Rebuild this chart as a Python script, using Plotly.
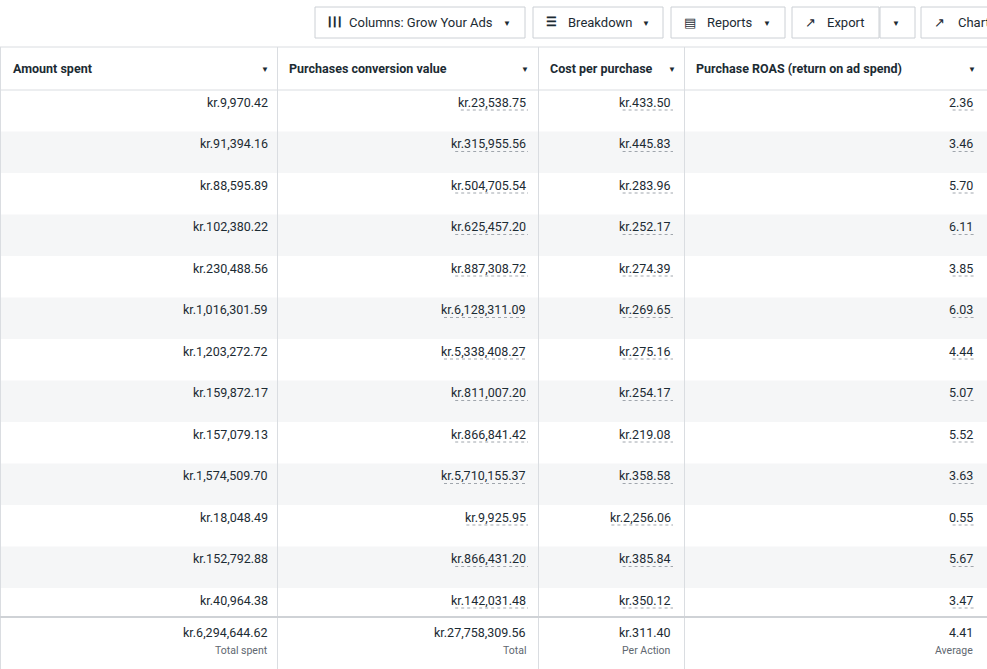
import plotly.graph_objects as go

headers = ["Amount spent", "Purchases conversion value", "Cost per purchase", "Purchase ROAS (return on ad spend)"]
amount_spent = [9970.42, 91394.16, 88595.89, 102380.22, 230488.56, 1016301.59, 1203272.72,
                159872.17, 157079.13, 1574509.70, 18048.49, 152792.88, 40964.38]
conv_value = [23538.75, 315955.56, 504705.54, 625457.20, 887308.72, 6128311.09, 5338408.27,
              811007.20, 866841.42, 5710155.37, 9925.95, 866431.20, 142031.48]
cost_per = [433.50, 445.83, 283.96, 252.17, 274.39, 269.65, 275.16, 254.17, 219.08, 358.58,
            2256.06, 385.84, 350.12]
roas = [2.36, 3.46, 5.70, 6.11, 3.85, 6.03, 4.44, 5.07, 5.52, 3.63, 0.55, 5.67, 3.47]
totals = ["kr.6,294,644.62", "kr.27,758,309.56", "kr.311.40", "4.41"]
total_labels = ["Total spent", "Total", "Per Action", "Average"]
toolbar = ["Columns: Grow Your Ads", "Breakdown", "Reports", "Export", "", "Chart"]

FONT = "Roboto"
col_edges = [0, 277, 538, 684, 987]
right_x = [270, 528, 673, 975]
head_left = [11, 287, 548, 694]
arrow_x = [271, 531, 678, 978]
row_top, row_h = 90, 41.5

fig = go.Figure()
shapes, ann = [], []

def txt(x, y, s, size=13, color="#1c2b33", anchor="left", bold=False):
    ann.append(dict(x=x, y=y, text=f"<b>{s}</b>" if bold else s, showarrow=False, xanchor=anchor,
                    yanchor="middle", font=dict(family=FONT, size=size, color=color)))

for i in range(len(roas)):
    y0 = row_top + i * row_h
    y1 = min(y0 + row_h, 617)
    if i % 2 == 1:
        shapes.append(dict(type="rect", x0=0, x1=987, y0=y0, y1=y1, fillcolor="#f5f6f7", line_width=0, layer="below"))
for x in col_edges[:-1]:
    shapes.append(dict(type="line", x0=x + 0.5, x1=x + 0.5, y0=47, y1=669, line=dict(color="#dadde1", width=1)))
shapes.append(dict(type="line", x0=0, x1=987, y0=47, y1=47, line=dict(color="#dadde1", width=1)))
shapes.append(dict(type="line", x0=0, x1=987, y0=90, y1=90, line=dict(color="#dadde1", width=1)))
shapes.append(dict(type="line", x0=0, x1=987, y0=617, y1=617, line=dict(color="#cfd2d6", width=2)))

for j, h in enumerate(headers):
    txt(head_left[j], 68, h, bold=True, size=12.5)
    txt(arrow_x[j], 69, "▼", size=8, anchor="right")

def fmt(v, dec=2):
    return f"{v:,.{dec}f}"

cols = [["kr." + fmt(v) for v in amount_spent], ["kr." + fmt(v) for v in conv_value],
        ["kr." + fmt(v) for v in cost_per], [fmt(v) for v in roas]]
for i in range(len(roas)):
    y = row_top + i * row_h + 12
    for j in range(4):
        s = cols[j][i]
        txt(right_x[j], y, s, anchor="right", size=12.5)
        if j > 0:
            w = len(s) * 5.6
            shapes.append(dict(type="line", x0=right_x[j] - w, x1=right_x[j], y0=y + 8, y1=y + 8,
                               line=dict(color="#a0a6ad", width=1, dash="dot")))
for j in range(4):
    txt(right_x[j], 632, totals[j], anchor="right", size=12.5)
    txt(right_x[j], 650, total_labels[j], anchor="right", size=10.5, color="#606770")

btns = [(315, 525), (533, 663), (671, 785), (792, 879), (880, 915), (921, 1000)]
for x0, x1 in btns:
    shapes.append(dict(type="rect", x0=x0, x1=x1, y0=7, y1=38, line=dict(color="#ccd0d5", width=1), fillcolor="white"))
txt(325, 22, "<b>┃┃┃</b>", size=9)
txt(347, 22, toolbar[0], size=13)
txt(513, 23, "▼", size=8, anchor="right")
txt(544, 22, "<b>☰</b>", size=12)
txt(566, 22, toolbar[1], size=13)
txt(652, 23, "▼", size=8, anchor="right")
txt(682, 22, "▤", size=13)
txt(705, 22, toolbar[2], size=13)
txt(773, 23, "▼", size=8, anchor="right")
txt(803, 22, "↗", size=13)
txt(825, 22, toolbar[3], size=13)
txt(902, 23, "▼", size=8, anchor="right")
txt(932, 22, "↗", size=13)
txt(956, 22, toolbar[5], size=13)

fig.update_layout(
    width=987, height=669, margin=dict(l=0, r=0, t=0, b=0),
    paper_bgcolor="white", plot_bgcolor="white",
    xaxis=dict(range=[0, 987], visible=False, fixedrange=True),
    yaxis=dict(range=[669, 0], visible=False, fixedrange=True),
    shapes=shapes, annotations=ann, showlegend=False,
)
fig.write_html("out.html", config={"displayModeBar": False},
               post_script="document.body.style.margin='0';document.body.style.overflow='hidden';")
